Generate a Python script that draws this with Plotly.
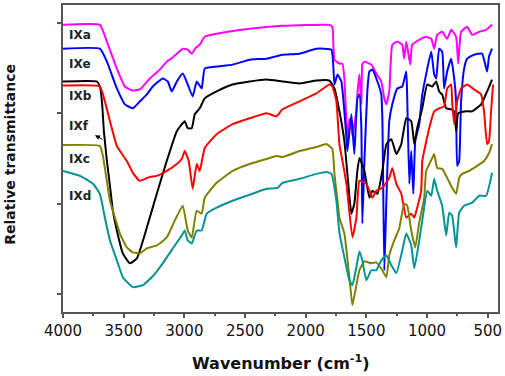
import plotly.graph_objects as go

# Wavenumbers (cm^-1) and relative transmittance (arbitrary units)
ixa_x = [4000,3696,3638,3556,3490,3433,3367,3284,3202,3145,3120,3062,3013,2972,2939,2906,2873,2832,2734,2462,2191,1804,1780,1763,1722,1697,1681,1656,1640,1623,1615,1582,1574,1557,1541,1533,1516,1459,1418,1377,1352,1335,1311,1286,1245,1204,1188,1171,1138,1122,1064,1007,965,941,916,875,834,801,760,743,719,669,628,571,513,464]
ixa_y = [289,289,272,245,227,223,224,235,244,252,254,260,265,264,260,266,269,277,280,285,288,289,287,254,250,250,235,172,194,192,177,202,219,239,209,249,252,249,240,232,215,209,222,269,272,269,255,272,249,269,274,277,275,265,279,282,275,284,277,250,282,287,279,282,284,289]

ixe_x = [4000,3696,3638,3556,3490,3424,3367,3309,3260,3178,3136,3104,3062,3013,2972,2931,2898,2857,2832,2734,2602,2462,2322,2191,2051,1911,1788,1763,1738,1706,1681,1664,1656,1623,1599,1574,1557,1541,1533,1516,1492,1475,1450,1409,1377,1368,1352,1335,1311,1286,1245,1204,1171,1163,1146,1130,1113,1097,1064,1039,965,941,924,900,875,859,834,801,776,760,752,735,719,694,669,612,546,505,489,464]
ixe_y = [265,265,252,225,209,205,212,219,227,235,232,222,232,240,229,217,232,225,245,247,249,254,255,259,260,265,264,229,239,232,202,175,162,199,159,215,219,185,89,152,222,242,244,232,219,195,42,112,192,209,225,227,242,215,129,162,119,172,189,219,262,239,235,265,262,225,242,255,235,212,147,152,212,245,255,259,260,242,257,265]

ixb_x = [4000,3720,3696,3679,3663,3638,3613,3589,3556,3507,3449,3391,3309,3227,3145,3062,2997,2972,2939,2914,2873,2832,2734,2602,2462,2322,2191,2051,1911,1804,1763,1722,1681,1640,1623,1599,1574,1557,1516,1475,1450,1409,1368,1335,1294,1253,1212,1171,1130,1105,1081,1039,998,957,924,900,875,842,801,776,760,743,678,628,554,505,464]
ixb_y = [232,232,227,212,182,152,127,102,82,59,49,54,85,119,152,182,192,185,185,199,205,215,222,229,232,234,232,230,233,233,225,202,172,117,99,109,142,155,142,115,122,119,142,169,174,159,169,195,192,169,185,205,229,227,232,222,219,205,204,202,182,200,202,202,209,222,234]

ixf_x = [4000,3696,3655,3613,3556,3474,3424,3367,3284,3227,3145,3062,3021,2997,2964,2931,2898,2873,2832,2734,2602,2462,2322,2240,2191,2051,1911,1804,1780,1747,1722,1697,1664,1615,1582,1557,1500,1450,1418,1368,1311,1286,1253,1212,1171,1130,1105,1081,1048,1039,982,941,900,859,834,801,793,776,752,719,669,612,554,530,505,489,472,456]
ixf_y = [228,227,212,192,167,152,140,132,136,137,142,149,154,162,152,124,149,142,165,179,189,195,200,197,204,212,220,229,227,212,169,152,129,75,95,132,129,115,122,125,135,145,129,119,95,99,95,105,122,152,185,202,205,207,225,229,212,189,212,225,229,224,219,202,169,172,202,229]

ixc_x = [4000,3696,3671,3655,3613,3572,3531,3474,3424,3367,3309,3227,3145,3079,3013,2972,2939,2898,2857,2832,2734,2602,2462,2322,2240,2191,2051,1911,1829,1780,1763,1738,1722,1681,1640,1615,1582,1557,1516,1459,1418,1368,1335,1311,1270,1229,1188,1163,1130,1097,1064,1023,1007,957,941,916,875,834,793,760,735,711,653,587,530,489,464]
ixc_y = [168,167,157,145,112,95,79,65,60,59,64,67,75,92,107,82,75,102,99,115,130,142,149,154,157,156,162,166,169,164,139,112,95,79,35,7,27,42,51,49,50,42,35,57,72,84,109,107,82,65,90,115,142,155,159,145,144,135,125,119,135,139,142,147,152,160,169]

ixd_x = [4000,3860,3753,3696,3655,3613,3556,3507,3424,3342,3260,3178,3095,3021,2997,2972,2939,2898,2857,2816,2734,2602,2462,2322,2232,2191,2051,1911,1829,1788,1747,1722,1681,1640,1615,1582,1557,1533,1500,1459,1418,1377,1335,1294,1253,1204,1171,1130,1105,1064,1039,998,965,941,916,875,842,817,793,760,735,694,628,571,513,464]
ixd_y = [142,137,129,119,95,72,52,35,25,27,36,49,64,77,82,72,69,82,82,99,105,112,118,124,125,130,134,139,141,139,112,80,55,32,27,45,61,52,32,42,42,52,57,47,39,62,79,67,44,72,92,122,117,134,122,107,77,100,97,65,100,107,110,117,117,140]

series_names = ["IXa", "IXe", "IXb", "IXf", "IXc", "IXd"]
series_x = [ixa_x, ixe_x, ixb_x, ixf_x, ixc_x, ixd_x]
series_y = [ixa_y, ixe_y, ixb_y, ixf_y, ixc_y, ixd_y]
series_colors = ["#FF00FF", "#0000FF", "#000000", "#FF0000", "#808000", "#009494"]

x_tick_vals = [4000, 3500, 3000, 2500, 2000, 1500, 1000, 500]
x_tick_text = ["4000", "3500", "3000", "2500", "2000", "1500", "1000", "500"]
y_tick_vals = [18, 109, 200, 291]

# label positions (paper y) for the curve names
label_y = [0.903, 0.809, 0.702, 0.605, 0.498, 0.379]

FONT = "DejaVu Sans"
AXC = "#555555"

fig = go.Figure()
for name, xs, ys, col in zip(series_names, series_x, series_y, series_colors):
    fig.add_trace(go.Scatter(x=xs, y=ys, mode="lines", name=name,
                             line=dict(color=col, width=2, shape="spline", smoothing=0.4)))

for name, ly in zip(series_names, label_y):
    fig.add_annotation(xref="paper", yref="paper", x=0.009, y=ly, text="<b>%s</b>" % name,
                       showarrow=False, xanchor="left", yanchor="middle",
                       font=dict(family=FONT, size=12, color="#222222"))

# small arrow near the black curve
fig.add_annotation(x=3737, y=178, xref="x", yref="y", text="", showarrow=True,
                   ax=9, ay=5, arrowhead=2, arrowsize=1, arrowwidth=1, arrowcolor="#000000")

# axis titles
fig.add_annotation(xref="paper", yref="paper", x=0.5, y=-0.165,
                   text="<b>Wavenumber (cm<sup>-1</sup>)</b>", showarrow=False,
                   xanchor="center", yanchor="middle",
                   font=dict(family=FONT, size=16, color="#111111"))
fig.add_annotation(xref="paper", yref="paper", x=-0.122, y=0.515,
                   text="<b>Relative transmittance</b>", showarrow=False, textangle=-90,
                   xanchor="center", yanchor="middle",
                   font=dict(family=FONT, size=14, color="#111111"))

fig.update_layout(
    width=505, height=376,
    margin=dict(l=63, r=7, t=3, b=64),
    paper_bgcolor="white", plot_bgcolor="white",
    showlegend=False,
    xaxis=dict(range=[4000, 415], tickvals=x_tick_vals, ticktext=x_tick_text,
               ticks="outside", ticklen=4, tickwidth=1.5, tickcolor=AXC,
               showline=True, linecolor=AXC, linewidth=1.5, mirror=True,
               showgrid=False, zeroline=False,
               tickfont=dict(family=FONT, size=15, color="#111111"),
               minor=dict(dtick=250, tick0=0, ticks="outside", ticklen=2.5, tickcolor=AXC, showgrid=False)),
    yaxis=dict(range=[0, 309], tickvals=y_tick_vals, showticklabels=False,
               ticks="outside", ticklen=4, tickwidth=1.5, tickcolor=AXC,
               showline=True, linecolor=AXC, linewidth=1.5, mirror=True,
               showgrid=False, zeroline=False),
)

fig.write_html("out.html", config={"displayModeBar": False},
               post_script="document.body.style.margin='0';document.body.style.padding='0';document.body.style.overflow='hidden';")
